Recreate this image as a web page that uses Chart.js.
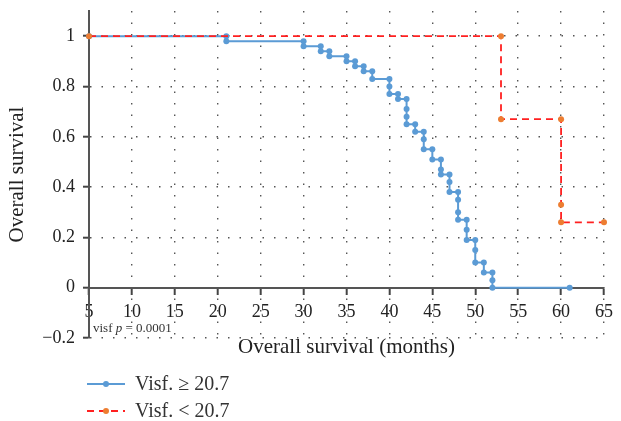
<!DOCTYPE html>
<html>
<head>
<meta charset="utf-8">
<script src="https://cdn.jsdelivr.net/npm/chart.js@4/dist/chart.umd.min.js"></script>
<style>
    body { margin: 0; background: #fff; }
    .wrap { position: relative; width: 621px; height: 421px; }
    .legend { position: absolute; left: 85px; top: 370px; font-family: 'Liberation Serif', 'Times New Roman', serif; font-size: 20px; color: #333; }
    .legend-item { display: flex; align-items: center; height: 27px; }
    .legend-item svg { margin-right: 8px; }
</style>
</head>
<body>
<div class="wrap">
    <canvas id="survivalChart"></canvas>
    <div class="legend">
        <div class="legend-item">
            <svg width="42" height="12"><line x1="2" y1="6" x2="40" y2="6" stroke="#5B9BD5" stroke-width="2"/><circle cx="21" cy="6" r="3" fill="#5B9BD5"/></svg>
            <span>Visf. ≥ 20.7</span>
        </div>
        <div class="legend-item">
            <svg width="42" height="12"><line x1="2" y1="6" x2="40" y2="6" stroke="#FF2020" stroke-width="2" stroke-dasharray="7 5"/><circle cx="21" cy="6" r="3" fill="#ED7D31"/></svg>
            <span>Visf. &lt; 20.7</span>
        </div>
    </div>
</div>
<script>
        // Kaplan-Meier step vertices (months, survival)
        const blueMonths = [5, 21, 21, 30, 30, 32, 32, 33, 33, 35, 35, 36, 36, 37, 37, 38, 38, 40, 40, 40,
            41, 41, 42, 42, 42, 42, 43, 43, 44, 44, 44, 45, 45, 46, 46, 46, 47, 47, 47, 48,
            48, 48, 48, 49, 49, 49, 50, 50, 50, 51, 51, 52, 52, 52, 61];
        const blueSurvival = [1, 1, 0.98, 0.98, 0.96, 0.96, 0.94, 0.94, 0.92, 0.92, 0.90, 0.90, 0.88, 0.88, 0.86, 0.86, 0.83, 0.83, 0.80, 0.77,
            0.77, 0.75, 0.75, 0.71, 0.68, 0.65, 0.65, 0.62, 0.62, 0.59, 0.55, 0.55, 0.51, 0.51, 0.47, 0.45, 0.45, 0.42, 0.38, 0.38,
            0.35, 0.30, 0.27, 0.27, 0.23, 0.19, 0.19, 0.15, 0.10, 0.10, 0.06, 0.06, 0.03, 0, 0];

        const redMonths = [5, 53, 53, 60, 60, 60, 65];
        const redSurvival = [1, 1, 0.67, 0.67, 0.33, 0.26, 0.26];

        const xTicks = [5, 10, 15, 20, 25, 30, 35, 40, 45, 50, 55, 60, 65];
        const yTicks = [-0.2, 0, 0.2, 0.4, 0.6, 0.8, 1];

        const serif = "'Liberation Serif', 'Times New Roman', serif";
        let survivalChart;

        function toPoints(xs, ys) {
            return xs.map((x, i) => ({ x: x, y: ys[i] }));
        }

        // small "visf p = 0.0001" note in the lower left corner
        const pValuePlugin = {
            id: 'pValue',
            afterDraw(chart) {
                const { ctx, scales: { x, y } } = chart;
                let left = x.getPixelForValue(5) + 4;
                const mid = y.getPixelForValue(-0.164);
                ctx.save();
                ctx.fillStyle = '#333';
                ctx.textBaseline = 'middle';
                const parts = [['visf ', 'normal'], ['p', 'italic'], [' = 0.0001', 'normal']];
                parts.forEach(([txt, style]) => {
                    ctx.font = style + ' 13px ' + serif;
                    ctx.fillText(txt, left, mid);
                    left += ctx.measureText(txt).width;
                });
                ctx.restore();
            }
        };

        function initSurvivalChart() {
            const ctx = document.getElementById('survivalChart').getContext('2d');

            survivalChart = new Chart(ctx, {
                type: 'line',
                data: {
                    datasets: [{
                        label: 'Visf. ≥ 20.7',
                        data: toPoints(blueMonths, blueSurvival),
                        borderColor: '#5B9BD5',
                        backgroundColor: '#5B9BD5',
                        borderWidth: 2,
                        pointRadius: 3,
                        pointBorderWidth: 0,
                        tension: 0,
                        clip: false,
                        order: 2
                    }, {
                        label: 'Visf. < 20.7',
                        data: toPoints(redMonths, redSurvival),
                        borderColor: '#FF2020',
                        backgroundColor: '#ED7D31',
                        borderWidth: 1.8,
                        borderDash: [7, 5],
                        pointRadius: 3,
                        pointBorderWidth: 0,
                        tension: 0,
                        clip: false,
                        order: 1
                    }]
                },
                options: {
                    responsive: true,
                    maintainAspectRatio: false,
                    animation: false,
                    layout: {
                        // the x axis sits at y = 0, so the space under the plot is set here
                        padding: { top: 11, right: 10, bottom: 83, left: 0 }
                    },
                    plugins: {
                        legend: { display: false },
                        tooltip: { enabled: false }
                    },
                    scales: {
                        x: {
                            type: 'linear',
                            position: { y: 0 },
                            min: 5,
                            max: 65,
                            afterBuildTicks: s => { s.ticks = xTicks.map(v => ({ value: v })); },
                            afterFit: s => { s.height = 72; },
                            grid: {
                                color: '#555',
                                lineWidth: 1.4,
                                tickLength: 6,
                                tickColor: '#444',
                                tickWidth: 2
                            },
                            border: { display: true, color: '#555', width: 2, dash: [1.5, 10] },
                            ticks: {
                                padding: 8,
                                color: '#222',
                                font: { family: serif, size: 18 }
                            },
                            title: {
                                display: true,
                                text: 'Overall survival (months)',
                                color: '#222',
                                padding: 0,
                                font: { family: serif, size: 21 }
                            }
                        },
                        y: {
                            min: -0.2,
                            max: 1.1,
                            afterBuildTicks: s => { s.ticks = yTicks.map(v => ({ value: v })); },
                            afterFit: s => { s.width = 89; s.paddingTop = 0; s.paddingBottom = 0; },
                            grid: {
                                color: '#555',
                                lineWidth: 1.4,
                                tickLength: 6,
                                tickColor: '#444',
                                tickWidth: 2
                            },
                            border: { display: true, color: '#555', width: 2, dash: [1.5, 10] },
                            ticks: {
                                padding: 8,
                                color: '#222',
                                font: { family: serif, size: 18 },
                                callback: v => (v < 0 ? '\u2212' + Math.abs(v) : String(v))
                            },
                            title: {
                                display: true,
                                text: 'Overall survival',
                                color: '#222',
                                padding: { top: 5, bottom: 0 },
                                font: { family: serif, size: 21 }
                            }
                        }
                    }
                },
                plugins: [pValuePlugin]
            });
        }

        document.addEventListener('DOMContentLoaded', function() {
            initSurvivalChart();
        });
</script>
</body>
</html>
